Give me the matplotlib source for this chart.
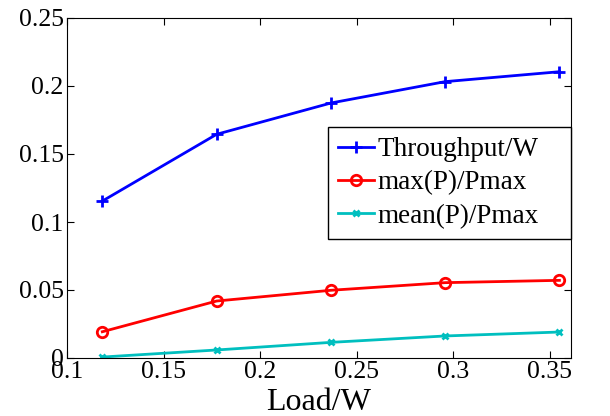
import matplotlib.pyplot as plt

plt.switch_backend('agg')
plt.rcParams['font.family'] = ['Liberation Serif', 'DejaVu Serif']

load = [0.1183, 0.1775, 0.2367, 0.2958, 0.3550]
throughput = [0.1154, 0.1645, 0.1875, 0.2032, 0.2105]
max_p = [0.0193, 0.0419, 0.0498, 0.0554, 0.0571]
mean_p = [0.0007, 0.0059, 0.0115, 0.0162, 0.0191]

fig = plt.figure(figsize=(6.1, 4.16), dpi=100)
ax = fig.add_axes([67 / 610, 1 - 358 / 416, 504 / 610, 340 / 416])

ax.plot(load, throughput, '-+', color='b', lw=2, ms=8, mew=2, label='Throughput/W')
ax.plot(load, max_p, '-o', color='r', lw=2, ms=7.5, mew=2, mfc='none', label='max(P)/Pmax')
ax.plot(load, mean_p, '-x', color=(0, 0.75, 0.75), lw=2, ms=5, mew=2, label='mean(P)/Pmax')

ax.set_xlim(0.1, 0.361)
ax.set_ylim(0, 0.25)
ax.set_xticks([0.1, 0.15, 0.2, 0.25, 0.3, 0.35])
ax.set_xticklabels(['0.1', '0.15', '0.2', '0.25', '0.3', '0.35'])
ax.set_yticks([0, 0.05, 0.1, 0.15, 0.2, 0.25])
ax.set_yticklabels(['0', '0.05', '0.1', '0.15', '0.2', '0.25'])
ax.tick_params(direction='in', top=True, right=True, length=5, labelsize=18.5, pad=2.5)
ax.set_xlabel('Load/W', fontsize=23, labelpad=3)

leg = ax.legend(loc='upper left', bbox_to_anchor=(0.518, 0.353, 0.482, 0.326),
                mode='expand', fontsize=19.5,
                frameon=True, fancybox=False, edgecolor='k', framealpha=1,
                handlelength=1.3, handletextpad=0.15, labelspacing=0.3,
                borderpad=0.38, borderaxespad=0)
leg.get_frame().set_linewidth(1)

fig.savefig('out.png', dpi=100)
